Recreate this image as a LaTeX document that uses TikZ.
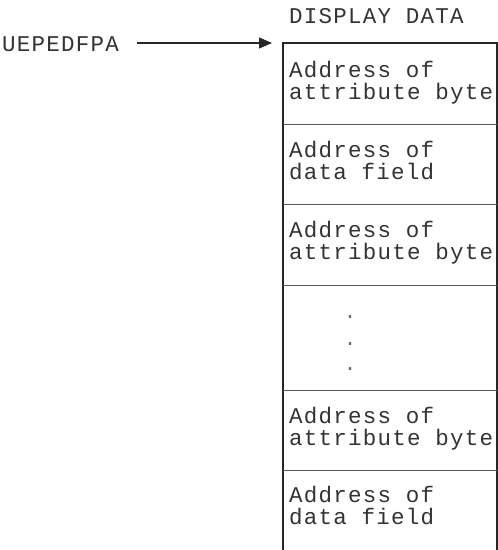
\documentclass[tikz,border=0pt]{standalone}
\usepackage{fontspec}
\setmonofont{Liberation Mono}[LetterSpace=5.5]
\usetikzlibrary{arrows.meta}
\tikzset{
  lbl/.style={inner sep=0pt, anchor=base west, text height=15pt, text depth=4pt, text=black!80, font=\ttfamily\fontsize{22.5}{20}\selectfont},
  dot/.style={inner sep=0pt, anchor=base, text=black!60, font=\ttfamily\fontsize{20}{20}\selectfont},
  frame/.style={draw=black!85, line width=1.1pt},
  divider/.style={draw=black!65, line width=1pt},
  ptr/.style={draw=black!85, line width=1.1pt, -{Triangle[length=13pt,width=11pt]}}
}
\begin{document}
\begin{tikzpicture}[x=1pt,y=-1pt]
\useasboundingbox (0,0) rectangle (498,550);
% labels
\node[lbl] (title) at (289,23) {DISPLAY DATA};
\node[lbl] (src) at (2,51) {UEPEDFPA};
% box outline (open at the bottom)
\coordinate (bl) at (283,550);
\coordinate (tl) at (283,43);
\coordinate (tr) at (497,43);
\coordinate (br) at (497,550);
\draw[frame] (bl) -- (tl) -- (tr) -- (br);
% dividers
\foreach \y/\n in {124/d1,204/d2,285/d3,390/d4,470/d5}{
  \coordinate (\n w) at (283,\y);
  \coordinate (\n e) at (497,\y);
  \draw[divider] (\n w) -- (\n e);
}
% pointer
\coordinate (tip) at (272,43);
\draw[ptr] ([xshift=18pt]src.east |- tip) -- (tip);
% row texts
\node[lbl] (r1a) at (289,77) {Address of};
\node[lbl] (r1b) at (289,99) {attribute byte};
\node[lbl] (r2a) at (289,157) {Address of};
\node[lbl] (r2b) at (289,179) {data field};
\node[lbl] (r3a) at (289,237) {Address of};
\node[lbl] (r3b) at (289,259) {attribute byte};
\node[dot] (p1) at (350,318) {.};
\node[dot] (p2) at (350,345) {.};
\node[dot] (p3) at (350,370) {.};
\node[lbl] (r5a) at (289,423) {Address of};
\node[lbl] (r5b) at (289,445) {attribute byte};
\node[lbl] (r6a) at (289,502) {Address of};
\node[lbl] (r6b) at (289,524) {data field};
\end{tikzpicture}
\end{document}
